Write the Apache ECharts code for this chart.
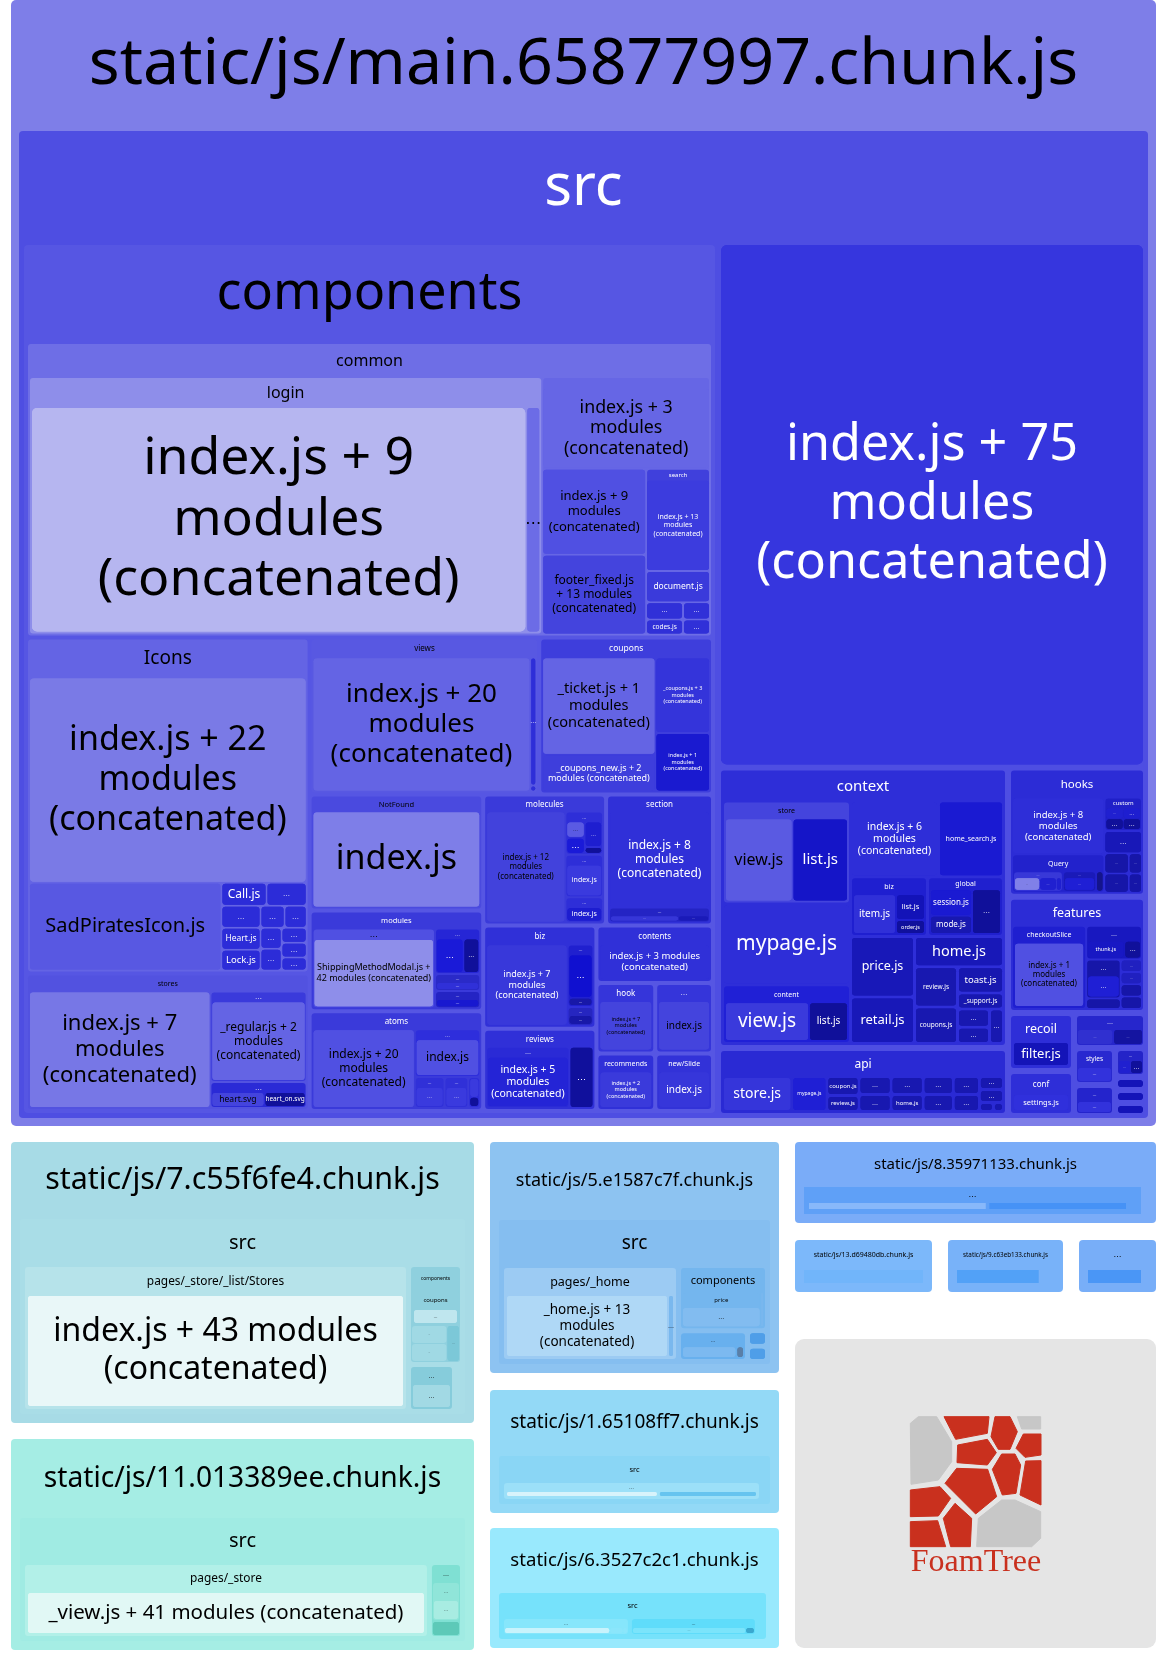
<!DOCTYPE html>
<html>
<head>
<meta charset="utf-8">
<title>bundle treemap</title>
<script src="https://cdn.jsdelivr.net/npm/echarts@6/dist/echarts.min.js"></script>
<style>
  html, body { margin: 0; background: #fff; }
  #chart { width: 1164px; height: 1654px; }
</style>
</head>
<body>
<div id="chart"></div>
<script>
// A cell is [look, name, size] and a folder is [look, name, size, kids].
// A plain list of cells is an unnamed split with no box of its own.
const CONCAT = '\nmodules\n(concatenated)';

// components/common
const loginCells = [['loginIndex', 'index.js + 9' + CONCAT, 112548], ['loginSliver', '…', 3164]];
const searchCells = [['search13', 'index.js + 13' + CONCAT, 1]];
const commonSideCol = [
  [[['search', 'search', 6464, searchCells], ['document', 'document.js', 1984]],
    [['small', '…', 629], ['small', '…', 459]]],
  [['small', 'codes.js', 555], ['small', '…', 405]]
];
const commonOtherCells = [
  ['other3', 'index.js + 3' + CONCAT, 13440],
  [[['other9', 'index.js + 9' + CONCAT, 8840], ['footer', 'footer_fixed.js\n+ 13 modules\n(concatenated)', 8216]], commonSideCol]
];
const commonCells = [['login', 'login', 132098, loginCells], ['commonOther', '…', 43176, commonOtherCells]];

// components/Icons and stores
const iconSmallCells = [
  [['iconCall', 'Call.js', 1035], ['iconDot', '…', 920]],
  [
    [[['iconDot', '…', 858], ['iconNamed', 'Heart.js', 858]], ['iconLock', 'Lock.js', 819]],
    [
      [['iconDot', '…', 528], ['iconDot', '…', 484]],
      [[['iconDot', '…', 441], ['iconDot', '…', 462]], [[['iconDot', '…', 375], ['iconDot', '…', 375]], ['iconDot', '…', 325]]]
    ]
  ]
];
const iconCells = [
  ['icons22', 'index.js + 22' + CONCAT, 57062],
  [['sad', 'SadPiratesIcon.js', 16896], iconSmallCells]
];
const storeCells = [
  ['stores7', 'index.js + 7' + CONCAT, 20996],
  [
    ['storesDots', '…', 8640, [['regular', '_regular.js + 2' + CONCAT, 1]]],
    ['storesSvg', '…', 2496, [['heartSvg', 'heart.svg', 795], ['heartOn', 'heart_on.svg', 615]]]
  ]
];

// components: views, coupons
const viewCells = [
  ['views20', 'index.js + 20' + CONCAT, 29346],
  [['viewsBar', '…', 768], ['viewsBar', '', 36]]
];
const couponCells = [
  [['ticket', '_ticket.js + 1' + CONCAT, 11172], ['couponsNew', '_coupons_new.js + 2\nmodules (concatenated)', 4218]],
  [['coupons3', '_coupons.js + 3' + CONCAT, 4180], ['coupons1', 'index.js + 1' + CONCAT, 3245]]
];

// components: NotFound, modules, atoms
const notFoundCells = [['notFoundIndex', 'index.js', 1]];
const moduleCells = [
  ['modulesLeft', '…', 9840, [['shipping', 'ShippingMethodModal.js +\n42 modules (concatenated)', 1]]],
  [
    [
      ['modulesA', '…', 2070, [['blueDot', '…', 924], ['navyDot', '…', 528]]],
      ['modulesB', '…', 782, [['modulesBKid', '…', 1]]]
    ],
    ['modulesC', '…', 782, [['modulesCKid', '…', 1]]]
  ]
];
const atomCells = [
  ['atoms20', 'index.js + 20' + CONCAT, 8137],
  [
    ['atomsDots', '…', 3168, [['atomsIndex', 'index.js', 1]]],
    [
      ['atomsSmall', '…', 930, [['atomsKid', '…', 1]]],
      [
        ['atomsSmall', '…', 744, [['atomsKid', '…', 1]]],
        ['atomsTiny', '', 372, [['atomsKid', '', 250], ['navyDot', '', 122]]]
      ]
    ]
  ]
];

// components: molecules, section
const moleculeCells = [
  ['molecules12', 'index.js + 12' + CONCAT, 8991],
  [
    [
      ['moleculesA', '…', 1666, [
        [['paleDot', '…', 1], ['blueDot', '…', 1]],
        [['darkBlueDot', '…', 1.5], ['navyDot', '', 0.4]]
      ]],
      ['moleculesA', '…', 1638, [['moleculesIdx', 'index.js', 1]]]
    ],
    ['moleculesA', '…', 975, [['moleculesIdx2', 'index.js', 1]]]
  ]
];
const sectionCells = [
  ['section8', 'index.js + 8' + CONCAT, 9792],
  ['sectionDots', '…', 1530, [['sectionBar', '…', 68], ['sectionBar2', '…', 30]]]
];

// components: biz, reviews, contents, hook and the rest
const bizCells = [
  ['biz7', 'index.js + 7' + CONCAT, 6724],
  [
    ['bizDots', '…', 1638, [['bizBig', '…', 43], ['bizSmall', '…', 8]]],
    ['bizDots2', '…', 494, [['bizSmall', '…', 1]]]
  ]
];
const reviewCells = [
  ['reviewsDots', '…', 5208, [['reviews5', 'index.js + 5' + CONCAT, 1]]],
  ['navyBig', '…', 1488]
];
const contentsCells = [['contents3', 'index.js + 3 modules\n(concatenated)', 1]];
const hookCells = [['hook7', 'index.js + 7' + CONCAT, 1]];
const hookSideCells = [['hookIndex', 'index.js', 1]];
const recommendCells = [['recommends2', 'index.js + 2' + CONCAT, 1]];
const slideCells = [['slideIndex', 'index.js', 1]];

const componentsLower = [
  [
    ['icons', 'Icons', 94805, iconCells],
    ['stores', 'stores', 38771, storeCells]
  ],
  [
    [['views', 'views', 35880, viewCells], ['coupons', 'coupons', 27144, couponCells]],
    [
      [[['notFound', 'NotFound', 20010, notFoundCells], ['modules', 'modules', 17400, moduleCells]], ['atoms', 'atoms', 17226, atomCells]],
      [
        [['molecules', 'molecules', 15990, moleculeCells], ['section', 'section', 13910, sectionCells]],
        [
          [['biz', 'biz', 11639, bizCells], ['reviews', 'reviews', 9266, reviewCells]],
          [
            ['contents', 'contents', 6669, contentsCells],
            [
              [['hook', 'hook', 4130, hookCells], ['hookSide', '…', 4060, hookSideCells]],
              [['recommends', 'recommends', 3363, recommendCells], ['slide', 'new/Slide', 3306, slideCells]]
            ]
          ]
        ]
      ]
    ]
  ]
];
const componentCells = [['common', 'common', 201978, commonCells], componentsLower];

// context
const storeViewCells = [['ctxStoreView', 'view.js', 67], ['ctxStoreList', 'list.js', 55]];
const contentViewCells = [['ctxContentView', 'view.js', 84], ['ctxContentList', 'list.js', 39]];
const ctxBizCells = [['ctxItem', 'item.js', 1720], [['ctxList', 'list.js', 754], ['ctxOrder', 'order.js', 406]]];
const ctxGlobalCells = [[['ctxSession', 'session.js', 1092], ['ctxMode', 'mode.js', 756]], ['ctxDots', '…', 1276]];
const ctxRightLower = [
  [['ctxPrice', 'price.js', 3840], ['ctxRetail', 'retail.js', 2944]],
  [
    ['ctxHome', 'home.js', 2670],
    [
      [['ctxSmall', 'review.js', 1720], ['ctxSmall', 'coupons.js', 1548]],
      [
        ['ctxToast', 'toast.js', 1196],
        [['ctxSupport', '_support.js', 736], [[['ctxSmall', '…', 576], ['ctxSmall', '…', 512]], ['ctxSmall', '…', 476]]]
      ]
    ]
  ]
];
const contextCells = [
  [
    [['ctxStore', 'store', 13056, storeViewCells], ['ctxMypage', 'mypage.js', 10240]],
    ['ctxContent', 'content', 7424, contentViewCells]
  ],
  [
    [['ctxIndex6', 'index.js + 6' + CONCAT, 6600], ['ctxHomeSearch', 'home_search.js', 4875]],
    [
      [['ctxBiz', 'biz', 4543, ctxBizCells], ['ctxGlobal', 'global', 4484, ctxGlobalCells]],
      ctxRightLower
    ]
  ]
];

// api
const apiCells = [
  ['apiStore', 'store.js', 2415],
  [
    ['apiMypage', 'mypage.js', 1225],
    [
      [['apiSmall', 'coupon.js', 608], ['apiSmall', 'review.js', 512]],
      [
        [['apiSmall', '…', 576], ['apiSmall', '…', 544]],
        [
          [['apiSmall', '…', 576], ['apiSmall', 'home.js', 544]],
          [
            [['apiSmall', '…', 540], ['apiSmall', '…', 510]],
            [
              [['apiSmall', '…', 468], ['apiSmall', '…', 442]],
              [[['apiSmall', '…', 312], ['apiSmall', '…', 312]], [['apiSmall', '…', 126], ['apiSmall', '', 90]]]
            ]
          ]
        ]
      ]
    ]
  ]
];

// hooks, features and the small folders under them
const queryCells = [
  ['queryA', '…', 48, [[['queryPale', '…', 30], ['queryBlue', '…', 20]], ['queryBlue', '', 6]]],
  [['queryB', '…', 32, [['queryDeep', '…', 1]]], ['queryTiny', '', 7]]
];
const customCells = [
  [['queryBlue', '…', 1], ['navyDot', '…', 1]],
  [['darkBlueDot', '…', 1], ['navyDot', '…', 1]]
];
const hooksCells = [
  [['hooks8', 'index.js + 8' + CONCAT, 5096], ['query', 'Query', 3458, queryCells]],
  [
    ['custom', 'custom', 1221, customCells],
    [
      ['hooksDots', '…', 814],
      [
        [['hooksDark', '…', 480], ['hooksDark', '…', 260]],
        [['hooksDark', '…', 456], ['hooksDark', '…', 247]]
      ]
    ]
  ]
];
const featureCells = [
  ['checkout', 'checkoutSlice', 5913, [['checkoutIndex', 'index.js + 1' + CONCAT, 1]]],
  [
    ['thunkBox', '…', 1815, [['thunk', 'thunk.js', 38], ['navyDot', '…', 17]]],
    [
      [['thunkA', '…', 1292, [['thunkAKid', '…', 1]]], ['hooksDark', '', 340]],
      [[[['thunkDark', '…', 252], ['thunkDark', '…', 252]], ['hooksDark', '', 252]], ['hooksDark', '', 252]]
    ]
  ]
];
const restCells = [
  [
    ['recoil', 'recoil', 3828, [['filter', 'filter.js', 1]]],
    ['conf', 'conf', 2970, [['settings', 'settings.js', 1]]]
  ],
  [
    ['restDots', '…', 2520, [['restA', '…', 34], ['restB', '…', 28]]],
    [
      [['styles', 'styles', 1517, [['stylesKid', '…', 1]]], ['restDots2', '…', 1271, [['stylesKid', '…', 1]]]],
      [[[['restBox', '…', 899, [['queryBlue', '…', 1], ['navyDot', '…', 1]]], ['pill', '', 403]], ['pill', '', 403]], ['pill', '', 403]]
    ]
  ]
];

const srcRightCol = [
  ['index75', 'index.js + 75' + CONCAT, 224700],
  [
    [['context', 'context', 81200, contextCells], ['api', 'api', 19720, apiCells]],
    [[['hooks', 'hooks', 17802, hooksCells], ['features', 'features', 16008, featureCells]], restCells]
  ]
];
const mainSrcCells = [['components', 'components', 608481, componentCells], srcRightCol];

// the smaller chunks
const chunk7Cells = [['c7Src', 'src', 1, [
  ['c7Pages', 'pages/_store/_list/Stores', 56742, [['c7Index', 'index.js + 43 modules\n(concatenated)', 1]]],
  [
    ['c7Comps', 'components', 5400, [
      ['c7Coupons', 'coupons', 46, [['c7Pale', '…', 1]]],
      [[['c7G', '…', 17], ['c7G', '…', 17]], ['c7Col', '…', 12]]
    ]],
    [['c7Dots', '…', 2162, [['c7DotsKid', '…', 1]]], ['blank', '', 376]]
  ]
]]];
const chunk11Cells = [['c11Src', 'src', 1, [
  ['c11Pages', 'pages/_store', 30450, [['c11View', '_view.js + 41 modules (concatenated)', 1]]],
  ['c11Side', '…', 2475, [
    ['c11G', '…', 36, [['c11Pale', '…', 1]]],
    ['c11Dark', '', 14]
  ]]
]]];
const chunk5Cells = [['c5Src', 'src', 1, [
  ['c5Pages', 'pages/_home', 17169, [['c5Home', '_home.js + 13' + CONCAT, 163], ['c5Sliver', '…', 6]]],
  [
    ['c5Comps', 'components', 5874, [['c5Price', 'price', 70, [['c5PriceKid', '…', 1]]], ['c5Sliver', '', 3]]],
    [
      ['c5G', '…', 2139, [['c5GKid', '', 50], ['c5Dark', '', 7]]],
      [['c5Small', '', 310], ['c5Small', '', 310]]
    ]
  ]
]]];
const chunk1Cells = [['c1Src', 'src', 1, [
  ['c1Group', '…', 255, [['c1Pale', '', 151], ['c1Blue', '', 98]]],
  ['blank', '', 6]
]]];
const chunk6Cells = [
  ['c6Src', 'src', 267, [
    ['c6A', '…', 125, [['c6Pale', '', 95], [['c6Mid', '', 12], ['c6Mid', '', 4]]]],
    [['c6B', '…', 124, [['c6BKid', '…', 105], ['c6Dark', '', 8]]], ['blank', '', 6]]
  ]],
  ['blank', '', 4]
];
const chunk8Cells = [
  ['c8Group', '…', 337, [['c8Pale', '', 180], [['c8Blue', '', 140], ['blank', '', 10]]]],
  ['blank', '', 6]
];
const chunk13Cells = [['c13Kid', '', 1]];
const chunk9Cells = [['c9Kid', '', 89], ['blank', '', 17]];
const chunkLastCells = [['cLastKid', '', 53], ['blank', '', 6]];

const chunkTrees = [
  ['mainChunk', 'static/js/main.65877997.chunk.js', 1, [['mainSrc', 'src', 1, mainSrcCells]]],
  ['chunk7', 'static/js/7.c55f6fe4.chunk.js', 1, chunk7Cells],
  ['chunk11', 'static/js/11.013389ee.chunk.js', 1, chunk11Cells],
  ['chunk5', 'static/js/5.e1587c7f.chunk.js', 1, chunk5Cells],
  ['chunk1', 'static/js/1.65108ff7.chunk.js', 1, chunk1Cells],
  ['chunk6', 'static/js/6.3527c2c1.chunk.js', 1, chunk6Cells],
  ['chunk8', 'static/js/8.35971133.chunk.js', 1, chunk8Cells],
  ['chunk13', 'static/js/13.d69480db.chunk.js', 1, chunk13Cells],
  ['chunk9', 'static/js/9.c63eb133.chunk.js', 1, chunk9Cells],
  ['chunkLast', '…', 1, chunkLastCells]
];

// where each chunk's treemap sits on the page: left, top, width, height
const chunkBoxes = [
  [11, 0, 1145, 1126],
  [11, 1142, 463, 281],
  [11, 1439, 463, 211],
  [490, 1142, 289, 231],
  [490, 1390, 289, 123],
  [490, 1528, 289, 120],
  [795, 1142, 361, 81],
  [795, 1240, 137, 52],
  [948, 1240, 115, 52],
  [1079, 1240, 77, 52]
];

const FONT = '"Noto Sans", sans-serif';
const DOT_FONT = '"DejaVu Sans", sans-serif';
const CLEAR = 'rgba(0,0,0,0)';
const cell = (fill, font, radius = 3) => ({ fill, font, head: 0, border: 0, gap: 2, radius });
const box = (fill, font, head, border = 2, gap = 2, radius = 3) => ({ fill, font, head, border, gap, radius });

const looks = {
  blank: cell(CLEAR, 0, 0),
  mainChunk: box('#7e7ee8', 64.5, 131, 8, 0, 5),
  mainSrc: box('#4e4ee2', 58, 114, 5, 6, 4),
  components: box('#5656e3', 52, 99, 4, 4, 4),
  common: box('#6e6ee6', 16, 34, 2, 2),
  login: box('#8e8eea', 16, 30, 2, 2),
  loginIndex: cell('#b6b6f0', 51.8, 5),
  loginSliver: cell('#6c6ce6', 16),
  commonOther: box('#6666e5', 10, 11, 0, 2),
  other3: cell('#6666e5', 17.8),
  other9: cell('#5050e2', 13),
  footer: cell('#4444dd', 12),
  search: box('#4040dc', 6, 11, 0, 2),
  search13: cell('#3c3cde', 7),
  document: cell('#3a3adb', 8.5),
  small: cell('#3030d8', 6.5),

  icons: box('#6464e4', 19, 39, 2, 2),
  icons22: cell('#7a7ae6', 34, 4),
  sad: cell('#5858e2', 20),
  iconCall: cell('#2c2cd8', 12),
  iconNamed: cell('#2c2cd8', 8.5),
  iconLock: cell('#2c2cd8', 9.5),
  iconDot: cell('#2c2cd8', 7),
  stores: box('#5252e0', 7, 17, 2, 2),
  stores7: cell('#7777e6', 22),
  storesDots: box('#3a3adb', 7, 10, 1, 2),
  regular: cell('#6464e4', 12),
  storesSvg: box('#2a2ad6', 7, 10, 1, 2),
  heartSvg: cell('#4444dd', 8.5),
  heartOn: cell('#10109a', 6.5),

  views: box('#5858e2', 8, 19, 2, 2),
  views20: cell('#6464e4', 26),
  viewsBar: cell('#2e2ed8', 6),
  coupons: box('#3e3edc', 8.5, 19, 2, 2),
  ticket: cell('#6464e4', 14.6),
  couponsNew: cell('#3e3edc', 9),
  coupons3: cell('#3434da', 5.5),
  coupons1: cell('#1a1ad0', 5.5),

  notFound: box('#4a4adf', 7.5, 16, 2, 2),
  notFoundIndex: cell('#7e7ee8', 34),
  modules: box('#3a3ada', 7.5, 17, 2, 2),
  modulesLeft: box('#5050e2', 8, 10.5, 1, 2),
  shipping: cell('#8e8eea', 9),
  modulesA: box('#2626d6', 5, 10, 1, 2),
  modulesB: box('#2a2ac8', 4, 8, 1, 1),
  modulesBKid: cell('#3030d8', 4),
  modulesC: box('#2424c4', 4, 8, 1, 1),
  modulesCKid: cell('#1818d0', 4),
  blueDot: cell('#1a1ad8', 8),
  navyDot: cell('#10109a', 6),
  darkBlueDot: cell('#1e1ed0', 5),
  paleDot: cell('#5a5ae3', 5),
  atoms: box('#3a3ada', 8, 17, 2, 2),
  atoms20: cell('#5050e2', 12),
  atomsDots: box('#2e2edc', 5, 10, 1, 2),
  atomsIndex: cell('#5050e2', 12),
  atomsSmall: box('#3030d8', 4, 10, 1, 2),
  atomsTiny: box('#2e2ed8', 0, 0, 1, 1),
  atomsKid: cell('#3a3ade', 5),

  molecules: box('#3a3ada', 8, 16, 2, 2),
  molecules12: cell('#4242dc', 8),
  moleculesA: box('#2e2ed8', 4, 10, 1, 2),
  moleculesIdx: cell('#3a3ade', 7),
  moleculesIdx2: cell('#1d1dd0', 7),
  section: box('#3030d8', 8, 16, 2, 2),
  section8: cell('#3030d8', 12),
  sectionDots: box('#2424c4', 4, 8, 1, 1),
  sectionBar: cell('#3636d8', 3),
  sectionBar2: cell('#1a1ab8', 3),

  biz: box('#3030d8', 8, 18, 2, 2),
  biz7: cell('#3838da', 9),
  bizDots: box('#2020cf', 4, 10, 1, 2),
  bizBig: cell('#1010d0', 8),
  bizSmall: cell('#1818a8', 3.5),
  bizDots2: box('#2626c0', 3.5, 8, 1, 1),
  reviews: box('#3030d8', 8, 17, 2, 2),
  reviewsDots: box('#2a2ad6', 6, 10, 1, 2),
  reviews5: cell('#2424d6', 10.5),
  navyBig: cell('#10109c', 9),
  contents: box('#3030d8', 8, 18, 2, 2),
  contents3: cell('#3030d8', 9.5),
  hook: box('#3535da', 8, 17, 2, 2),
  hook7: cell('#4444dd', 5.5),
  hookSide: box('#3535da', 7, 17, 2, 2),
  hookIndex: cell('#4444dd', 10),
  recommends: box('#3030d8', 7, 17, 2, 2),
  recommends2: cell('#3a3adb', 5.5),
  slide: box('#3232d8', 7, 17, 2, 2),
  slideIndex: cell('#3636da', 10),

  index75: cell('#3636de', 50.3, 6),
  context: box('#2e2ed8', 15, 32, 3, 3),
  ctxStore: box('#4444dd', 7, 17, 2, 2),
  ctxStoreView: cell('#5a5ae2', 16),
  ctxStoreList: cell('#1515c8', 15),
  ctxMypage: cell('#2e2ed8', 21),
  ctxContent: box('#2020d6', 7, 17, 2, 2),
  ctxContentView: cell('#3a3adc', 19),
  ctxContentList: cell('#10109a', 10),
  ctxIndex6: cell('#2e2ed8', 10.5),
  ctxHomeSearch: cell('#1a1ad2', 7),
  ctxBiz: box('#1f1fd0', 7, 17, 2, 2),
  ctxItem: cell('#3030d8', 10),
  ctxList: cell('#1313b8', 7.5),
  ctxOrder: cell('#10109c', 5.5),
  ctxGlobal: box('#2020cf', 7, 12, 2, 2),
  ctxSession: cell('#1a1ad2', 8),
  ctxMode: cell('#1818b0', 8),
  ctxDots: cell('#10109a', 7),
  ctxPrice: cell('#1818b8', 12.5),
  ctxRetail: cell('#1818b8', 13),
  ctxHome: cell('#1818b8', 14.5),
  ctxSmall: cell('#1818b0', 6.5),
  ctxToast: cell('#1818b0', 9.5),
  ctxSupport: cell('#1818b0', 6.5),

  api: box('#2a2ad4', 12, 27, 3, 3),
  apiStore: cell('#3535da', 14),
  apiMypage: cell('#1f1fd5', 5),
  apiSmall: cell('#1818b0', 6),

  hooks: box('#2c2cd6', 11.5, 28, 2, 2),
  hooks8: cell('#2e2ed8', 9.5),
  query: box('#2222cc', 7, 17, 1, 2),
  queryA: box('#3838d8', 3, 6, 1, 1),
  queryB: box('#1a1ab8', 3, 6, 1, 1),
  queryPale: cell('#8080e8', 2),
  queryBlue: cell('#2020d0', 3),
  queryDeep: cell('#1f1fd5', 3),
  queryTiny: cell('#14148c', 0),
  custom: box('#2020c8', 6, 10, 1, 1),
  hooksDots: cell('#1818b8', 7),
  hooksDark: cell('#1616a8', 3),
  features: box('#2c2cd6', 12.5, 27, 2, 2),
  checkout: box('#1f1fd0', 7, 17, 2, 2),
  checkoutIndex: cell('#5050e2', 8),
  thunkBox: box('#1818c0', 6, 15, 1, 2),
  thunk: cell('#1818c4', 5.5),
  thunkA: box('#1616a8', 6, 16, 1, 1),
  thunkAKid: cell('#1f1fd5', 6),
  thunkDark: cell('#2020c0', 3),
  recoil: box('#2e2ed8', 12.5, 27, 3, 2),
  filter: cell('#1414b8', 13),
  conf: box('#2e2ed8', 8, 21, 3, 2),
  settings: cell('#3030dc', 7.5),
  restDots: box('#2626cc', 6, 14, 1, 2),
  restA: cell('#3030d0', 3),
  restB: cell('#1414a0', 3),
  styles: box('#2828d0', 6.5, 17, 1, 2),
  stylesKid: cell('#3232dc', 4),
  restDots2: box('#2424cc', 4, 14, 1, 2),
  restBox: box('#2424c8', 3.5, 10, 1, 1),
  pill: cell('#1414b8', 0, 5),

  chunk7: box('#a7dbe6', 30.4, 77, 9, 0, 4),
  c7Src: box('#a9dde7', 20, 48, 5, 5),
  c7Pages: box('#b6e3ea', 11.9, 29, 3, 2),
  c7Index: cell('#e9f7f8', 32),
  c7Comps: box('#8fd0de', 5, 23, 1, 1),
  c7Coupons: box('#8fd0de', 6, 20, 2, 1),
  c7Pale: cell('#bfe6ee', 4),
  c7G: box('#a0d9e4', 2, 5, 1, 1),
  c7Col: cell('#7cc8d8', 3),
  c7Dots: box('#86ccdb', 6, 18, 2, 2),
  c7DotsKid: cell('#a2d9e4', 6),

  chunk11: box('#a5ede4', 28.2, 79, 9, 0, 4),
  c11Src: box('#a0ebe3', 20, 47, 5, 5),
  c11Pages: box('#b2f0e8', 11.9, 28, 3, 2),
  c11View: cell('#e1f8f5', 20.5),
  c11Side: box('#7fe0d3', 6, 18, 1, 2),
  c11G: box('#90e5d9', 4, 18, 1, 1),
  c11Pale: cell('#a8ece2', 4),
  c11Dark: cell('#5dc9b8', 0),

  chunk5: box('#8dc3f1', 18, 78, 9, 0, 4),
  c5Src: box('#85bef0', 19, 48, 5, 5),
  c5Pages: box('#9ccbf3', 12.5, 28, 3, 2),
  c5Home: cell('#afd8f6', 13.5),
  c5Sliver: cell('#7ab8ee', 6),
  c5Comps: box('#74b6ee', 11, 25, 2, 2),
  c5Price: box('#74b6ee', 6, 15, 0, 2),
  c5PriceKid: cell('#82bcf0', 6),
  c5G: box('#68b0ee', 5, 14, 2, 2),
  c5GKid: cell('#7cb9f0', 0),
  c5Dark: cell('#5a7fa8', 0),
  c5Small: cell('#4f9ee8', 0),

  chunk1: box('#93d9f6', 19, 66, 9, 0, 4),
  c1Src: box('#8ad6f5', 7.5, 27, 5, 0),
  c1Group: box('#9ce0f8', 5, 9, 3, 3),
  c1Pale: cell('#d8f3fb', 0),
  c1Blue: cell('#66c4ef', 0),

  chunk6: box('#99e9fd', 18.6, 65, 9, 0, 4),
  c6Src: box('#76e2fb', 7.5, 26, 5, 4),
  c6A: box('#86e6fb', 4, 9, 1, 1),
  c6Pale: cell('#c8f3fc', 0),
  c6Mid: cell('#8be6fb', 0),
  c6B: box('#5fdcfa', 4, 9, 1, 1),
  c6BKid: cell('#7be4fb', 3),
  c6Dark: cell('#3aa8cf', 0),

  chunk8: box('#7aacf8', 15, 45, 9, 0, 4),
  c8Group: box('#5fa0f7', 8, 16, 5, 4, 0),
  c8Pale: cell('#88b8fa', 0, 0),
  c8Blue: cell('#4692f6', 0, 0),
  chunk13: box('#7cb8fa', 7, 30, 9, 0, 4),
  c13Kid: cell('#71b5fa', 0, 0),
  chunk9: box('#78b2f9', 6.3, 30, 9, 0, 4),
  c9Kid: cell('#52a1f7', 0, 0),
  chunkLast: box('#78aef8', 8, 30, 9, 0, 4),
  cLastKid: cell('#4a96f6', 0, 0)
};

// big titles sit a little above the middle of their header band
const titleLift = { mainChunk: 30, mainSrc: 28, components: 20, chunk7: 6, loginIndex: 4, index75: 4 };
// the source picked white here even though the fill is rather light
const textOverride = { mainSrc: '#fff' };

function textColor(fill) {
  const n = parseInt(fill.slice(1), 16);
  const lum = 0.299 * (n >> 16) + 0.587 * ((n >> 8) & 255) + 0.114 * (n & 255);
  return lum > 82 ? '#000' : '#fff';
}

function buildNode(item, parentGap) {
  if (Array.isArray(item[0])) {
    return {
      name: '',
      itemStyle: { color: CLEAR, borderColor: CLEAR, borderWidth: 0, gapWidth: parentGap },
      upperLabel: { show: false },
      label: { show: false },
      children: item.map(k => buildNode(k, parentGap))
    };
  }
  const [key, name, size, kids] = item;
  const look = looks[key];
  const text = {
    show: !!name && look.font > 0,
    fontFamily: name === '…' ? DOT_FONT : FONT,
    fontSize: look.font,
    lineHeight: Math.round(look.font * 1.17 * 10) / 10,
    color: textOverride[key] || (look.fill === CLEAR ? '#000' : textColor(look.fill)),
    position: 'inside',
    align: 'center',
    verticalAlign: 'middle',
    overflow: 'none',
    padding: [0, 0, titleLift[key] || 0, 0]
  };
  const node = {
    name,
    value: size,
    itemStyle: {
      color: look.fill,
      borderColor: look.fill,
      borderWidth: look.border,
      gapWidth: look.gap,
      borderRadius: look.radius
    },
    label: text
  };
  if (kids) {
    node.upperLabel = Object.assign({}, text, { show: look.head > 0, height: look.head });
    node.children = kids.map(k => buildNode(k, look.gap));
  }
  return node;
}

const series = chunkTrees.map((tree, i) => ({
  type: 'treemap',
  left: chunkBoxes[i][0],
  top: chunkBoxes[i][1],
  width: chunkBoxes[i][2],
  height: chunkBoxes[i][3],
  sort: false,
  squareRatio: 1,
  roam: false,
  nodeClick: false,
  visibleMin: 0,
  breadcrumb: { show: false },
  itemStyle: { borderWidth: 0, gapWidth: 0, borderColor: CLEAR },
  data: [buildNode(tree, 0)]
}));

// FoamTree logo panel at 3x
const logoRed = [
  [[477, 860], [612, 860], [607, 910], [512, 928]],
  [[630, 860], [675, 860], [697, 905], [675, 958], [640, 958], [618, 920]],
  [[715, 912], [768, 912], [768, 975], [720, 982], [693, 955]],
  [[518, 945], [607, 928], [634, 968], [607, 1005], [516, 998]],
  [[650, 972], [690, 972], [707, 1005], [693, 1090], [652, 1095], [622, 1018]],
  [[722, 993], [768, 992], [768, 1125], [705, 1095]],
  [[515, 1015], [608, 1018], [635, 1100], [572, 1152], [480, 1060]],
  [[376, 1080], [465, 1070], [497, 1105], [460, 1158], [376, 1160]],
  [[510, 1120], [560, 1165], [556, 1250], [497, 1250], [475, 1165]],
  [[376, 1175], [458, 1172], [482, 1250], [376, 1250]]
];
const logoGrey = [
  [[400, 860], [455, 860], [500, 935], [500, 995], [460, 1050], [378, 1063], [376, 880]],
  [[697, 860], [767, 860], [767, 897], [710, 897]],
  [[650, 1110], [690, 1110], [767, 1145], [767, 1225], [740, 1250], [575, 1250], [580, 1165]]
];
const logoShape = (points, fill) => ({
  type: 'polygon',
  shape: { points },
  style: { fill, stroke: fill, lineWidth: 3, lineJoin: 'round' }
});

const chart = echarts.init(document.getElementById('chart'));
chart.setOption({
  backgroundColor: '#fff',
  animation: false,
  series,
  graphic: [
    { type: 'rect', shape: { x: 795, y: 1339, width: 361, height: 309, r: 9 }, style: { fill: '#e5e5e5' }, silent: true },
    {
      type: 'group',
      x: 785,
      y: 1130,
      scaleX: 1 / 3,
      scaleY: 1 / 3,
      silent: true,
      children: logoRed.map(p => logoShape(p, '#c9301e')).concat(logoGrey.map(p => logoShape(p, '#c7c7c7')))
    },
    {
      type: 'text',
      x: 976,
      y: 1563,
      silent: true,
      style: {
        text: 'FoamTree',
        fill: '#c9301e',
        font: '32px "Liberation Serif", serif',
        textAlign: 'center',
        textVerticalAlign: 'middle'
      }
    }
  ]
});
</script>
</body>
</html>
